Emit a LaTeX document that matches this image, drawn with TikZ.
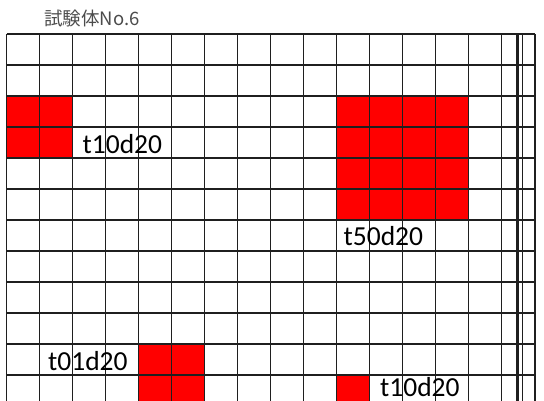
\documentclass[tikz,border=0pt]{standalone}
\usepackage{fontspec}
\setmainfont{Carlito}
\newfontfamily\jpfont{Noto Sans CJK JP}
\usetikzlibrary{calc}

\begin{document}
\begin{tikzpicture}[x=1pt,y=-1pt,
        gridline/.style={line width=1.9pt,black!88},
        lbl/.style={anchor=base west,inner sep=0pt,font=\fontsize{27.5}{30}\selectfont}]
        \useasboundingbox (0,0) rectangle (544,401);
        % red cells
        \fill[red] (6.5,96.3) rectangle (72.5,158.3);
        \fill[red] (336.5,96.3) rectangle (468.5,220.3);
        \fill[red] (138.5,344.3) rectangle (204.5,401);
        \fill[red] (336.5,375.3) rectangle (369.5,401);
        % grid
        \foreach \i in {0,...,15} \draw[gridline] (6.5+33*\i,34.3) -- (6.5+33*\i,401);
        \foreach \j in {0,...,11} \draw[gridline] (6.5,34.3+31*\j) -- (535,34.3+31*\j);
        \draw[gridline] (535,34.3) -- (535,401);
        \draw[gridline,line width=3pt] (517.5,34.3) -- (517.5,401);
        \draw[gridline] (522.5,34.3) -- (522.5,401);
        % labels
        \node[anchor=base west,inner sep=0pt,text=black!70,font=\jpfont\fontsize{18.5}{20}\selectfont] (ttl) at (44,25.5) {試験体No.6};
        \node[lbl] (t1) at (82.5,153.5) {t10d20};
        \node[lbl] (t2) at (343.5,245.5) {t50d20};
        \node[lbl] (t3) at (48,370) {t01d20};
        \node[lbl] (t4) at (380,396.5) {t10d20};
      \end{tikzpicture}
\end{document}
